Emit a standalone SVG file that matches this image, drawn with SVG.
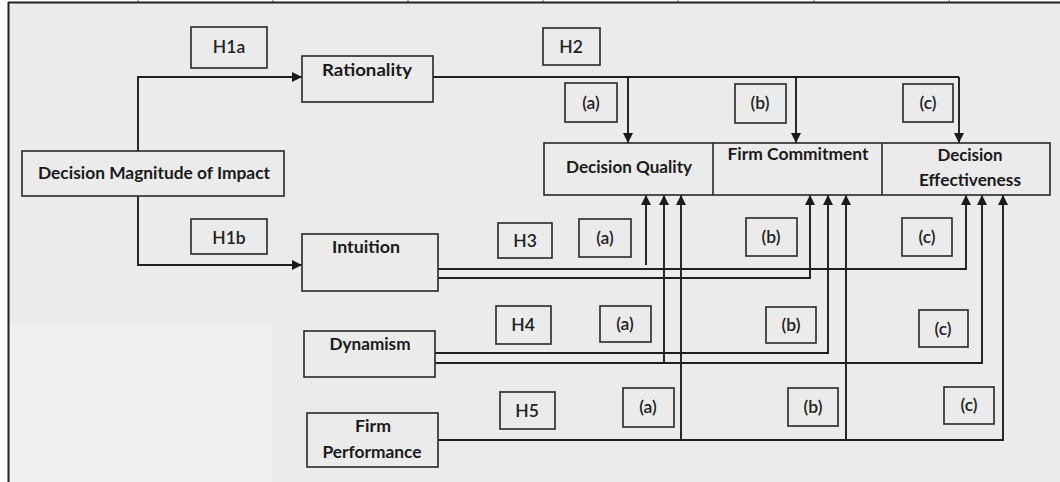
<svg xmlns="http://www.w3.org/2000/svg" width="1060" height="482" viewBox="0 0 1060 482">
  <defs>
    <marker id="arrow" viewBox="0 0 10 10" refX="10" refY="5" markerWidth="10" markerHeight="10" markerUnits="userSpaceOnUse" orient="auto">
      <path d="M0,0 L10,5 L0,10 Z" fill="#1a1a1a"/>
    </marker>
    <style>
      .box { fill: none; stroke: #333; stroke-width: 1.7; }
      .conn { fill: none; stroke: #1f1f1f; stroke-width: 1.9; }
      .title { font-family: Lato, "Liberation Sans", sans-serif; font-weight: bold; font-size: 17.5px; fill: #1a1a1a; text-anchor: middle; }
      .tag { font-family: Lato, "Liberation Sans", sans-serif; font-weight: 600; font-size: 17.5px; fill: #222; text-anchor: middle; }
    </style>
  </defs>

  <!-- canvas and frame -->
  <rect x="0" y="0" width="1060" height="482" fill="#ffffff"/>
  <rect x="8" y="2" width="1052" height="480" fill="#ebebeb"/>
  <rect x="9" y="325" width="264" height="157" fill="#efefef"/>
  <g stroke="#666" stroke-width="1">
    <line x1="138" y1="0" x2="138" y2="2"/>
    <line x1="273" y1="0" x2="273" y2="2"/>
    <line x1="408" y1="0" x2="408" y2="2"/>
    <line x1="543" y1="0" x2="543" y2="2"/>
    <line x1="678" y1="0" x2="678" y2="2"/>
    <line x1="814" y1="0" x2="814" y2="2"/>
    <line x1="949" y1="0" x2="949" y2="2"/>
  </g>
  <line x1="8" y1="2.5" x2="1060" y2="2.5" stroke="#222" stroke-width="2"/>
  <line x1="8.5" y1="2" x2="8.5" y2="482" stroke="#222" stroke-width="2"/>

  <!-- connectors -->
  <g id="connectors" class="conn">
    <!-- H1a / H1b -->
    <path d="M138,151 V77 H302" marker-end="url(#arrow)"/>
    <path d="M138,196 V265 H302" marker-end="url(#arrow)"/>
    <!-- H2: rationality to outcomes -->
    <path d="M433,77 H959"/>
    <path d="M628,77 V143" marker-end="url(#arrow)"/>
    <path d="M796,77 V143" marker-end="url(#arrow)"/>
    <path d="M959,77 V143" marker-end="url(#arrow)"/>
    <!-- H3: intuition -->
    <path d="M438,269 H966 V195" marker-end="url(#arrow)"/>
    <path d="M438,278 H810 V195" marker-end="url(#arrow)"/>
    <path d="M646,265 V195" marker-end="url(#arrow)"/>
    <!-- H4: dynamism -->
    <path d="M435,353 H828 V195" marker-end="url(#arrow)"/>
    <path d="M435,363 H982 V195" marker-end="url(#arrow)"/>
    <path d="M664,363 V195" marker-end="url(#arrow)"/>
    <!-- H5: firm performance -->
    <path d="M438,440 H1003 V195" marker-end="url(#arrow)"/>
    <path d="M681,440 V195" marker-end="url(#arrow)"/>
    <path d="M846,440 V195" marker-end="url(#arrow)"/>
  </g>

  <!-- constructs -->
  <g id="decision-magnitude">
    <rect class="box" x="22" y="151" width="262" height="45"/>
    <text class="title" x="154" y="179" textLength="232" lengthAdjust="spacingAndGlyphs">Decision Magnitude of Impact</text>
  </g>
  <g id="rationality">
    <rect class="box" x="302" y="56" width="131" height="46"/>
    <text class="title" x="367" y="76" textLength="90" lengthAdjust="spacingAndGlyphs">Rationality</text>
  </g>
  <g id="intuition">
    <rect class="box" x="302" y="234" width="136" height="57"/>
    <text class="title" x="366" y="253" textLength="68" lengthAdjust="spacingAndGlyphs">Intuition</text>
  </g>
  <g id="dynamism">
    <rect class="box" x="304" y="331" width="131" height="46"/>
    <text class="title" x="370" y="350" textLength="81" lengthAdjust="spacingAndGlyphs">Dynamism</text>
  </g>
  <g id="firm-performance">
    <rect class="box" x="307" y="413" width="131" height="54"/>
    <text class="title" x="373" y="432" textLength="36" lengthAdjust="spacingAndGlyphs">Firm</text>
    <text class="title" x="372" y="458" textLength="99" lengthAdjust="spacingAndGlyphs">Performance</text>
  </g>
  <g id="outcomes">
    <rect class="box" x="544" y="143" width="506" height="52"/>
    <line class="box" x1="713" y1="143" x2="713" y2="195"/>
    <line class="box" x1="882" y1="143" x2="882" y2="195"/>
  </g>
  <g id="decision-quality">
    <text class="title" x="629" y="173" textLength="126" lengthAdjust="spacingAndGlyphs">Decision Quality</text>
  </g>
  <g id="firm-commitment">
    <text class="title" x="798" y="160" textLength="141" lengthAdjust="spacingAndGlyphs">Firm Commitment</text>
  </g>
  <g id="decision-effectiveness">
    <text class="title" x="970" y="161" textLength="65" lengthAdjust="spacingAndGlyphs">Decision</text>
    <text class="title" x="970" y="186" textLength="102" lengthAdjust="spacingAndGlyphs">Effectiveness</text>
  </g>

  <!-- hypothesis tags -->
  <g id="tag-h1a"><rect class="box" x="191" y="27" width="76" height="41"/><text class="tag" x="229" y="53">H1a</text></g>
  <g id="tag-h1b"><rect class="box" x="191" y="219" width="76" height="35"/><text class="tag" x="229" y="244">H1b</text></g>
  <g id="tag-h2"><rect class="box" x="543" y="28" width="57" height="37"/><text class="tag" x="571" y="53">H2</text></g>
  <g id="tag-h2a"><rect class="box" x="565" y="83" width="52" height="39"/><text class="tag" x="591" y="109">(a)</text></g>
  <g id="tag-h2b"><rect class="box" x="735" y="84" width="51" height="39"/><text class="tag" x="760" y="109">(b)</text></g>
  <g id="tag-h2c"><rect class="box" x="903" y="84" width="50" height="38"/><text class="tag" x="928" y="109">(c)</text></g>

  <g id="tag-h3"><rect class="box" x="498" y="223" width="54" height="35"/><text class="tag" x="525" y="247">H3</text></g>
  <g id="tag-h3a"><rect class="box" x="579" y="219" width="52" height="38"/><text class="tag" x="605" y="244">(a)</text></g>
  <g id="tag-h3b"><rect class="box" x="746" y="218" width="51" height="38"/><text class="tag" x="771" y="243">(b)</text></g>
  <g id="tag-h3c"><rect class="box" x="902" y="218" width="50" height="38"/><text class="tag" x="927" y="243">(c)</text></g>

  <g id="tag-h4"><rect class="box" x="496" y="306" width="55" height="38"/><text class="tag" x="523" y="331">H4</text></g>
  <g id="tag-h4a"><rect class="box" x="600" y="306" width="51" height="36"/><text class="tag" x="625" y="330">(a)</text></g>
  <g id="tag-h4b"><rect class="box" x="766" y="307" width="50" height="36"/><text class="tag" x="791" y="331">(b)</text></g>
  <g id="tag-h4c"><rect class="box" x="919" y="310" width="49" height="37"/><text class="tag" x="943" y="335">(c)</text></g>

  <g id="tag-h5"><rect class="box" x="500" y="392" width="55" height="37"/><text class="tag" x="527" y="417">H5</text></g>
  <g id="tag-h5a"><rect class="box" x="623" y="388" width="51" height="39"/><text class="tag" x="648" y="413">(a)</text></g>
  <g id="tag-h5b"><rect class="box" x="788" y="388" width="50" height="38"/><text class="tag" x="813" y="413">(b)</text></g>
  <g id="tag-h5c"><rect class="box" x="944" y="387" width="50" height="37"/><text class="tag" x="969" y="411">(c)</text></g>
</svg>
